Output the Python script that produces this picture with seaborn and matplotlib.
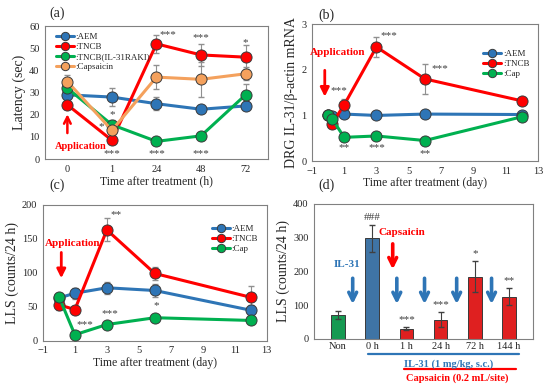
import matplotlib
matplotlib.use("Agg")
import matplotlib.pyplot as plt
import matplotlib.transforms as mtransforms
import seaborn as sns
import numpy as np

sns.set_style("white")
plt.rcParams["font.family"] = ["Liberation Serif", "DejaVu Serif"]

BLUE = "#2E75B6"
RED = "#FF0000"
GREEN = "#00B050"
ORANGE = "#F4A15D"
EDGE = "#3A3A3A"
STAR = "#404040"

# (a) latency, categorical time points (h)
a_times = ["0", "1", "24", "48", "72"]
a_aem = [29, 28, 25, 22.5, 24]
a_aem_err = [2, 4, 3, 1, 2]
a_tncb = [24.5, 8.5, 52, 47, 46]
a_tncb_err = [2, 1, 4, 5, 5.5]
a_raki = [32, 15.5, 8, 10.5, 29]
a_raki_err = [2, 2, 1, 1, 5]
a_cap = [35, 13, 37, 36, 38.5]
a_cap_err = [3, 3, 5.5, 8, 3]

# (b) DRG IL-31 mRNA (day)
b_days = [0, 0.25, 1, 3, 6, 12]
b_aem = [1.0, 0.98, 1.03, 1.0, 1.03, 1.02]
b_aem_err = [0.02, 0.02, 0.03, 0.03, 0.03, 0.03]
b_tncb = [1.0, 0.82, 1.23, 2.5, 1.8, 1.32]
b_tncb_err = [0.02, 0.05, 0.12, 0.22, 0.32, 0.05]
b_cap = [1.0, 0.93, 0.52, 0.55, 0.45, 0.97]
b_cap_err = [0.02, 0.03, 0.03, 0.03, 0.03, 0.03]

# (c) LLS counts (day)
c_days = [0, 1, 3, 6, 12]
c_aem = [63, 70, 78, 74, 45]
c_aem_err = [5, 8, 9, 10, 8]
c_tncb = [53, 46, 163, 99, 64]
c_tncb_err = [8, 4, 17, 10, 16]
c_cap = [65, 9, 24, 34, 30]
c_cap_err = [3, 3, 3, 3, 3]

# (d) LLS bars
d_cats = ["Non", "0 h", "1 h", "24 h", "72 h", "144 h"]
d_vals = [70, 298, 30, 57, 185, 125]
d_err = [12, 40, 5, 23, 45, 25]
d_colors = [GREEN, BLUE, RED, RED, RED, RED]
d_marks = ["", "###", "***", "***", "*", "**"]

fig = plt.figure(figsize=(5.5, 3.9), dpi=100)
ax_a = fig.add_axes([0.082, 0.592, 0.405, 0.341])
ax_b = fig.add_axes([0.567, 0.587, 0.411, 0.351])
ax_c = fig.add_axes([0.078, 0.126, 0.407, 0.349])
ax_d = fig.add_axes([0.571, 0.131, 0.398, 0.346])


def series(ax, x, y, err, color, label):
    ax.errorbar(x, y, yerr=err, fmt="none", ecolor="#909090", elinewidth=0.8,
                capsize=2, zorder=1)
    sns.lineplot(x=x, y=y, ax=ax, color=color, linewidth=2.2, marker="o",
                 markersize=8, markeredgecolor=EDGE, markeredgewidth=0.7,
                 label=label, zorder=3)


def style(ax):
    for s in ax.spines.values():
        s.set_color("#808080")
        s.set_linewidth(0.8)
    ax.tick_params(labelsize=7.5, length=2, width=0.6, color="#808080", pad=2)


def stars(ax, pts):
    for x, y, t in pts:
        ax.text(x, y, t, fontsize=8, color=STAR, ha="center", va="center")


def legend(ax, **kw):
    ax.legend(frameon=False, fontsize=6.5, handlelength=2.0, handletextpad=0.2,
              labelspacing=0.2, borderaxespad=0.3, markerscale=0.75, **kw)


# ---- (a)
xa = np.arange(len(a_times))
series(ax_a, xa, a_aem, a_aem_err, BLUE, ":AEM")
series(ax_a, xa, a_tncb, a_tncb_err, RED, ":TNCB")
series(ax_a, xa, a_raki, a_raki_err, GREEN, ":TNCB(IL-31RAKI)")
series(ax_a, xa, a_cap, a_cap_err, ORANGE, ":Capsaicin")
ax_a.set_xlim(-0.5, 4.5)
ax_a.set_ylim(0, 60)
ax_a.set_xticks(xa)
ax_a.set_xticklabels(a_times)
ax_a.set_yticks(range(0, 61, 10))
ax_a.set_xlabel("Time after treatment (h)", fontsize=8.5, labelpad=1)
ax_a.set_ylabel("Latency (sec)", fontsize=10, labelpad=2)
legend(ax_a, loc="upper left", bbox_to_anchor=(0.02, 1.0))
stars(ax_a, [(0.75, 14.5, "*"), (1, 20, "*"), (1, 2.5, "***"), (2, 2.5, "***"),
             (3, 2.5, "***"), (2.25, 56, "***"), (3, 55, "***"), (4, 52.5, "*")])
ax_a.annotate("", xy=(0, 21.5), xytext=(0, 10.5),
              arrowprops=dict(arrowstyle="->", color=RED, lw=1.8, mutation_scale=12))
ax_a.text(-0.27, 5.5, "Application", color=RED, fontsize=7.5, fontweight="bold",
          ha="left", va="center")
style(ax_a)

# ---- (b)
series(ax_b, b_days, b_aem, b_aem_err, BLUE, ":AEM")
series(ax_b, b_days, b_tncb, b_tncb_err, RED, ":TNCB")
series(ax_b, b_days, b_cap, b_cap_err, GREEN, ":Cap")
ax_b.set_xlim(-1, 13)
ax_b.set_ylim(0, 3)
ax_b.set_xticks(range(-1, 14, 2))
ax_b.set_yticks([0, 1, 2, 3])
ax_b.set_xlabel("Time after treatment (day)", fontsize=8.5, labelpad=1)
ax_b.set_ylabel("DRG IL-31/β-actin mRNA", fontsize=10, labelpad=2)
legend(ax_b, loc="upper right", bbox_to_anchor=(0.99, 0.86))
stars(ax_b, [(0.7, 1.55, "***"), (3.75, 2.76, "***"), (6.9, 2.03, "***"),
             (1, 0.29, "**"), (3, 0.29, "***"), (6, 0.17, "**")])
ax_b.annotate("", xy=(-0.2, 1.35), xytext=(-0.2, 2.05),
              arrowprops=dict(arrowstyle="-|>", color=RED, lw=2.0, mutation_scale=13))
ax_b.text(0.6, 2.37, "Application", color=RED, fontsize=8, fontweight="bold",
          ha="center", va="center")
style(ax_b)

# ---- (c)
series(ax_c, c_days, c_aem, c_aem_err, BLUE, ":AEM")
series(ax_c, c_days, c_tncb, c_tncb_err, RED, ":TNCB")
series(ax_c, c_days, c_cap, c_cap_err, GREEN, ":Cap")
ax_c.set_xlim(-1, 13)
ax_c.set_ylim(0, 200)
ax_c.set_xticks(range(-1, 14, 2))
ax_c.set_yticks(range(0, 201, 50))
ax_c.set_xlabel("Time after treatment (day)", fontsize=8.5, labelpad=1)
ax_c.set_ylabel("LLS (counts/24 h)", fontsize=10, labelpad=2)
legend(ax_c, loc="upper right", bbox_to_anchor=(0.99, 0.9))
stars(ax_c, [(3.6, 186, "**"), (1.6, 24, "***"), (3.2, 40, "***"), (6.1, 52, "*")])
ax_c.annotate("", xy=(0.15, 88), xytext=(0.15, 134),
              arrowprops=dict(arrowstyle="-|>", color=RED, lw=2.0, mutation_scale=13))
ax_c.text(0.85, 143, "Application", color=RED, fontsize=8, fontweight="bold",
          ha="center", va="center")
style(ax_c)

# ---- (d)
xd = np.arange(len(d_cats))
sns.barplot(x=d_cats, y=d_vals, hue=d_cats, palette=d_colors, legend=False,
            width=0.4, edgecolor=EDGE, linewidth=0.7, ax=ax_d, zorder=2)
ax_d.errorbar(xd, d_vals, yerr=d_err, fmt="none", ecolor="#404040",
              elinewidth=0.8, capsize=2, zorder=3)
ax_d.set_xlim(-0.7, 5.7)
ax_d.set_ylim(0, 400)
ax_d.set_yticks(range(0, 401, 100))
ax_d.set_ylabel("LLS (counts/24 h)", fontsize=10, labelpad=2)
for x, v, e, t in zip(xd, d_vals, d_err, d_marks):
    if t:
        ax_d.text(x, v + e + 22, t, fontsize=8, color=STAR, ha="center", va="center")
for x in [0.43, 1.72, 2.53, 3.47, 4.49]:
    ax_d.annotate("", xy=(x, 95), xytext=(x, 188),
                  arrowprops=dict(arrowstyle="->", color=BLUE, lw=2.6, mutation_scale=14))
ax_d.annotate("", xy=(1.6, 198), xytext=(1.6, 290),
              arrowprops=dict(arrowstyle="->", color=RED, lw=2.6, mutation_scale=14))
ax_d.text(0.27, 222, "IL-31", color=BLUE, fontsize=8, fontweight="bold",
          ha="center", va="center")
ax_d.text(1.88, 316, "Capsaicin", color=RED, fontsize=8, fontweight="bold",
          ha="center", va="center")
trans = mtransforms.blended_transform_factory(ax_d.transData, ax_d.transAxes)
ax_d.plot([0.88, 5.29], [-0.11, -0.11], color=BLUE, lw=1.6, transform=trans, clip_on=False)
ax_d.text(3.23, -0.19, "IL-31 (1 mg/kg, s.c.)", color=BLUE, fontsize=7.5,
          fontweight="bold", ha="center", va="center", transform=trans)
ax_d.plot([1.93, 5.21], [-0.225, -0.225], color=RED, lw=1.6, transform=trans, clip_on=False)
ax_d.text(3.5, -0.29, "Capsaicin (0.2 mL/site)", color=RED, fontsize=7.5,
          fontweight="bold", ha="center", va="center", transform=trans)
style(ax_d)
ax_d.tick_params(axis="x", length=0)

for lbl, x, y in [("(a)", 0.09, 0.965), ("(b)", 0.578, 0.962),
                  ("(c)", 0.09, 0.525), ("(d)", 0.578, 0.525)]:
    fig.text(x, y, lbl, fontsize=10, ha="left", va="center")

fig.savefig("out.png", dpi=100)
